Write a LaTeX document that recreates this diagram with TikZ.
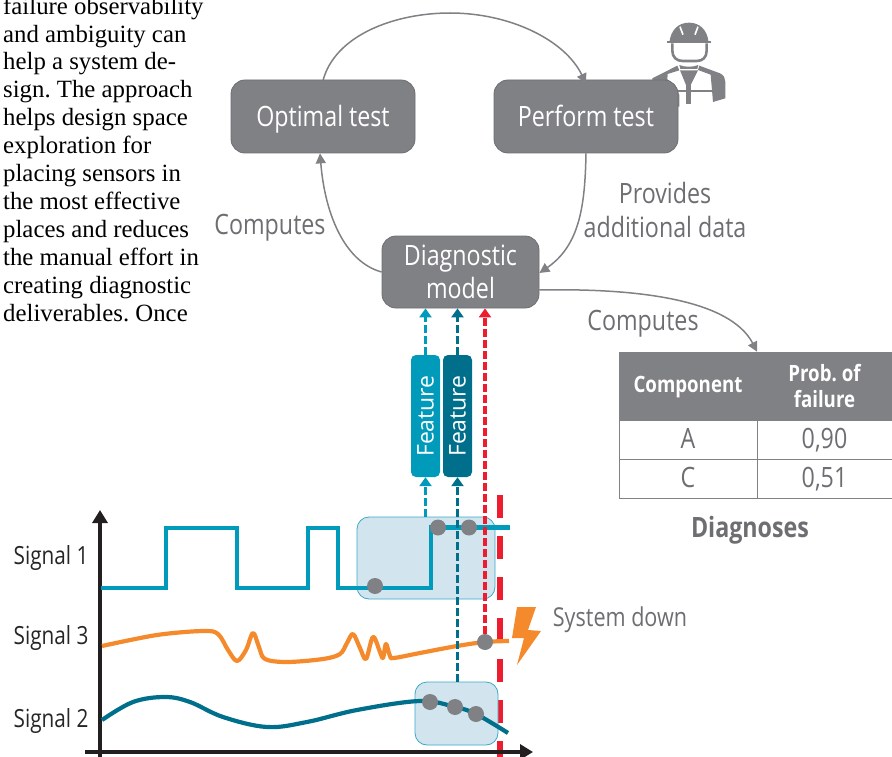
\documentclass[tikz,border=0pt]{standalone}
\usepackage{fontspec}
\setmainfont{Liberation Serif}
\newfontfamily\cond[FakeStretch=0.83]{Open Sans}
\newfontfamily\reg{Open Sans}
\usetikzlibrary{arrows.meta}
\definecolor{cblue}{HTML}{009ABB}
\definecolor{cteal}{HTML}{006F8B}
\definecolor{corange}{HTML}{F58A2C}
\definecolor{cred}{HTML}{ED1C2E}
\definecolor{cgray}{HTML}{808184}
\definecolor{cedge}{HTML}{6D6E71}
\definecolor{ctext}{HTML}{6D6E71}
\definecolor{cshade}{HTML}{D2E5EF}
\definecolor{cshadeedge}{HTML}{3AA9C6}
\definecolor{caxis}{HTML}{231F20}
\tikzset{
  graybox/.style={draw=cedge,line width=.8pt,fill=cgray,rounded corners=14pt,inner sep=0pt,text=white,align=center,font=\cond\fontsize{28}{33}\selectfont},
  lbl/.style={inner sep=0pt,text=ctext,align=center,font=\cond\fontsize{28}{34}\selectfont},
  siglbl/.style={inner sep=0pt,text=black!85,font=\cond\fontsize{25}{28}\selectfont},
  featbox/.style={rounded corners=5pt,inner sep=0pt,text=white,minimum width=122pt,minimum height=29pt,rotate=90,font=\reg\fontsize{23}{26}\selectfont},
  shade/.style={draw=cshadeedge,line width=.8pt,fill=cshade,rounded corners=12pt,inner sep=0pt},
  flow/.style={draw=cgray,line width=1.5pt,-{Triangle[length=10pt,width=10pt]}},
  dasharrow/.style={line width=3.4pt,dash pattern=on 8pt off 3pt,-{Triangle[length=9pt,width=12pt]}},
  sig/.style={line width=4.2pt,line join=miter},
  dot/.style={circle,fill=cgray,minimum size=16pt,inner sep=0pt},
  axis/.style={draw=caxis,line width=4pt,-{Triangle[length=13pt,width=15pt]}},
  cellh/.style={draw=cgray,fill=cgray,inner sep=0pt,text=white,align=center,font=\cond\bfseries\fontsize{22.5}{26}\selectfont},
  cell/.style={draw=cgray,line width=1pt,inner sep=0pt,text=ctext,font=\cond\fontsize{28}{30}\selectfont},
}
\begin{document}
\frenchspacing
\begin{tikzpicture}[x=1pt,y=-1pt]
\useasboundingbox (0,0) rectangle (892,757);
% body text
\node[name=body,anchor=north west,inner sep=0pt,align=left,font=\frenchspacing\fontsize{24.8}{27.9}\selectfont] at (3,-3.5)
 {failure observability\\and ambiguity can\\help a system de-\\sign. The approach\\helps design space\\exploration for\\placing sensors in\\the most effective\\places and reduces\\the manual effort in\\creating diagnostic\\deliverables. Once};
% worker icon
\begin{scope}[shift={(620,10)},x=.3333pt,y=-.3333pt]
 \fill[cgray] (148,98) .. controls (152,60) and (175,38) .. (207,38) .. controls (240,38) and (262,60) .. (266,98) -- cycle;
 \draw[cgray,line width=2pt] (142,96) -- (272,96);
 \draw[white,line width=1.6pt] (180,50) -- (189,74) (234,50) -- (225,74);
 \draw[cgray,line width=2.6pt] (157,100) -- (157,122) .. controls (157,142) and (170,153) .. (188,153) -- (230,153) .. controls (248,153) and (260,142) .. (260,122) -- (260,100);
 \fill[cgray] (178,165) .. controls (195,172) and (218,172) .. (235,165) -- (232,177) -- (181,177) -- cycle;
 \fill[cgray] (97,205) -- (172,167) -- (178,181) -- (143,192) -- (142,208) -- (165,225) -- (178,255) -- (178,290) -- (97,290) -- cycle;
 \fill[cgray] (238,167) -- (300,190) .. controls (312,196) and (316,205) .. (316,215) -- (316,265) -- (279,276) -- (272,194) -- (234,180) -- cycle;
 \fill[cgray] (180,181) -- (234,181) -- (212,225) -- (198,225) -- cycle;
 \fill[cgray] (198,220) rectangle (212,282);
 \fill[cgray] (170,239) rectangle (277,247);
\end{scope}
% red failure line
\coordinate (failtop) at (500,495);
\coordinate (failend) at (500,757);
\draw[cred,line width=5.5pt,dash pattern=on 23pt off 18pt] (failtop) -- (failend);
% shaded windows
\node[shade,minimum width=138pt,minimum height=82pt] (win1) at (426,558) {};
\node[shade,minimum width=83pt,minimum height=63pt] (win2) at (456.5,713.5) {};
% boxes
\node[graybox,minimum width=184pt,minimum height=73pt,text height=24pt,text depth=3pt] (opt) at (323,116.5) {Optimal test};
\node[graybox,minimum width=184pt,minimum height=73pt,text height=24pt,text depth=3pt] (perf) at (586,116.5) {Perform test};
\node[graybox,minimum width=157pt,minimum height=72pt] (diag) at (460.5,272) {Diagnostic\\model};
\node[featbox,fill=cblue] (f1) at (425.5,416) {Feature};
\node[featbox,fill=cteal] (f2) at (457.5,416) {Feature};
% axes
\coordinate (yo) at (100,757); \coordinate (yt) at (100,510);
\coordinate (xo) at (85,752); \coordinate (xt) at (533,752);
\draw[axis] (yo) -- (yt);
\draw[axis] (xo) -- (xt);
% signals
\draw[sig,cblue] (101,588) -- (166,588) -- (166,528) -- (237,528) -- (237,588) -- (308,588) -- (308,528) -- (338,528) -- (338,588) -- (431,588) -- (431,527.5) -- (510,527.5);
\draw[sig,corange,line join=round] plot[smooth,tension=.55] coordinates {(102,646) (157,635) (203,631) (218,634) (228,650) (237,661) (246,650) (253,633) (259,647) (265,659) (287,662) (323,659) (340,654) (347,643) (353,634) (360,648) (366,659) (373,637) (380,652) (383,658) (386,644) (390,656) (394,658) (420,653) (457,646) (485,642) (509,641)};
\draw[sig,cteal] plot[smooth,tension=.6] coordinates {(102,720) (133,702) (165,697) (190,702) (223,717) (267,727) (307,722) (357,710) (420,701) (455,707) (476,714) (508,733)};
% dots
\node[dot] (d1) at (375,586) {};
\node[dot] (d2) at (438,527.5) {};
\node[dot] (d3) at (469,527.5) {};
\node[dot] (d4) at (485,642) {};
\node[dot] (d5) at (430,702) {};
\node[dot] (d6) at (455,707) {};
\node[dot] (d7) at (476,714) {};
% dashed connectors
\draw[dasharrow,cblue] (f1.east) -- (f1.east |- diag.south);
\draw[dasharrow,cteal] (f2.east) -- (f2.east |- diag.south);
\draw[dasharrow,cblue] (f1.west |- win1.north) -- (f1.west);
\draw[dasharrow,cteal] (f2.west |- win2.north) -- (f2.west);
\draw[dasharrow,cred] (d4.north) -- (d4 |- diag.south);
% lightning
\fill[corange] (517,607) -- (536,607) -- (528,630) -- (541,631) -- (517,665) -- (524,638) -- (512,638) -- cycle;
% flow curves
\draw[flow] ([yshift=-1pt]opt.north) .. controls (335,35) and (395,13) .. (450,13) .. controls (510,13) and (565,40) .. ([yshift=-4pt]perf.north);
\draw[flow] (diag.west) .. controls (345,262) and (325,215) .. ([xshift=-3pt]opt.south);
\draw[flow] (perf.south) .. controls (585,205) and (580,245) .. ([yshift=-1pt]diag.east);
% table
\node[cellh,minimum width=138pt,minimum height=68pt,text height=17pt,text depth=5pt] (h1) at (688,386) {Component};
\node[cellh,minimum width=135pt,minimum height=68pt] (h2) at (824.5,386) {Prob. of\\failure};
\node[cell,minimum width=138pt,minimum height=39pt,text height=20pt,text depth=2pt] (a1) at (688,439.5) {A};
\node[cell,minimum width=135pt,minimum height=39pt,text height=20pt,text depth=2pt] (a2) at (824.5,439.5) {0,90};
\node[cell,minimum width=138pt,minimum height=39pt,text height=20pt,text depth=2pt] (c1) at (688,478.5) {C};
\node[cell,minimum width=135pt,minimum height=39pt,text height=20pt,text depth=2pt] (c2) at (824.5,478.5) {0,51};
\draw[flow] ([yshift=-18pt]diag.east) .. controls (640,288) and (730,300) .. (h1.north east);
% labels
\node[lbl] (l1) at (270,228) {Computes};
\node[lbl] (l2) at (665,210) {Provides\\additional data};
\node[lbl] (l3) at (643,324) {Computes};
\node[lbl,font=\cond\bfseries\fontsize{28}{30}\selectfont] (l4) at (750,530) {Diagnoses};
\node[siglbl] (s1) at (51,558.5) {Signal 1};
\node[siglbl] (s3) at (51,638.5) {Signal 3};
\node[siglbl] (s2) at (51,721.5) {Signal 2};
\node[lbl,font=\cond\fontsize{26}{30}\selectfont] (sd) at (620,619.5) {System down};
\end{tikzpicture}
\end{document}
